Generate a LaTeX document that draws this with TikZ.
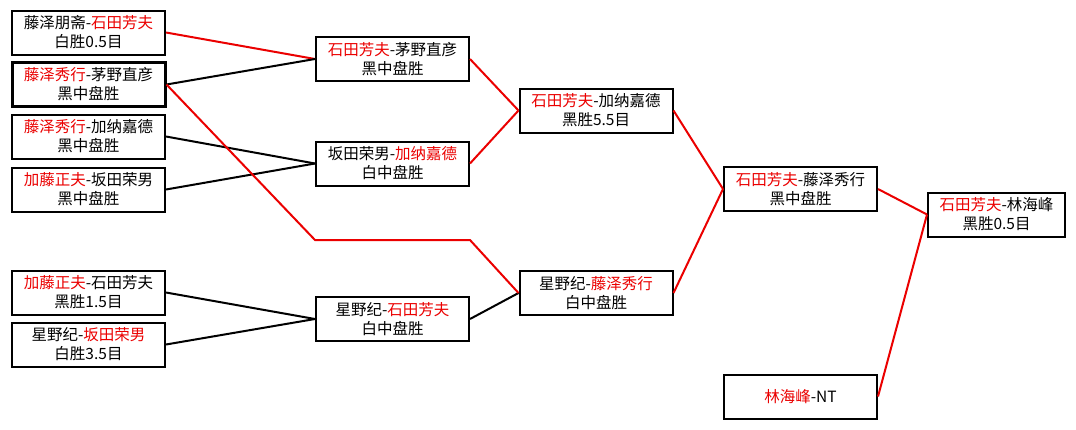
\documentclass[tikz,border=0pt]{standalone}
\usepackage{fontspec}
\usepackage{xcolor}
\usepackage{tikz}
\newfontfamily\cjk{Noto Sans CJK SC}
\definecolor{winred}{RGB}{235,0,0}
\newcommand{\wn}[1]{\textcolor{winred}{#1}}

\begin{document}
\begin{tikzpicture}[x=1pt, y=-1pt,
  game/.style={draw, line width=2pt, minimum width=153pt, minimum height=44pt,
    inner sep=0pt, align=center, font=\cjk\fontsize{15.5}{19}\selectfont},
  won/.style={winred, line width=2pt},
  lost/.style={black, line width=2pt}]
\useasboundingbox[fill=white] (0,0) rectangle (1076,429);
% first round
\node[game] (q1) at (88.5,32.5) {藤泽朋斋-\wn{石田芳夫}\\白胜0.5目};
\node[game, line width=3pt] (q2) at (88.5,84.5) {\wn{藤泽秀行}-茅野直彦\\黑中盘胜};
\node[game] (q3) at (88.5,136.5) {\wn{藤泽秀行}-加纳嘉德\\黑中盘胜};
\node[game] (q4) at (88.5,189.5) {\wn{加藤正夫}-坂田荣男\\黑中盘胜};
\node[game] (q5) at (88.5,292.5) {\wn{加藤正夫}-石田芳夫\\黑胜1.5目};
\node[game] (q6) at (88.5,344.5) {星野纪-\wn{坂田荣男}\\白胜3.5目};
% second round
\node[game] (s1) at (392.5,59) {\wn{石田芳夫}-茅野直彦\\黑中盘胜};
\node[game] (s2) at (392.5,163.5) {坂田荣男-\wn{加纳嘉德}\\白中盘胜};
\node[game] (s3) at (392.5,319) {星野纪-\wn{石田芳夫}\\白中盘胜};
% third round
\node[game] (t1) at (596,110.5) {\wn{石田芳夫}-加纳嘉德\\黑胜5.5目};
\node[game] (t2) at (596,293) {星野纪-\wn{藤泽秀行}\\白中盘胜};
% semi and final
\node[game] (f1) at (800.5,189) {\wn{石田芳夫}-藤泽秀行\\黑中盘胜};
\node[game] (f2) at (800.5,396.5) {\wn{林海峰}-NT};
\node[game, minimum width=137pt] (fin) at (996.5,214.5) {\wn{石田芳夫}-林海峰\\黑胜0.5目};

\coordinate (bendL) at (315,240);
\coordinate (bendR) at (470,240);

\draw[won] (q1.east) -- (s1.west);
\draw[lost] (q2.east) -- (s1.west);
\draw[lost] (q3.east) -- (s2.west);
\draw[lost] (q4.east) -- (s2.west);
\draw[lost] (q5.east) -- (s3.west);
\draw[lost] (q6.east) -- (s3.west);
\draw[won] (s1.east) -- (t1.west);
\draw[won] (s2.east) -- (t1.west);
\draw[lost] (s3.east) -- (t2.west);
\draw[won] (q2.east) -- (bendL) -- (bendR) -- (t2.west);
\draw[won] (t1.east) -- (f1.west);
\draw[won] (t2.east) -- (f1.west);
\draw[won] (f1.east) -- (fin.west);
\draw[won] (f2.east) -- (fin.west);
\end{tikzpicture}
\end{document}
